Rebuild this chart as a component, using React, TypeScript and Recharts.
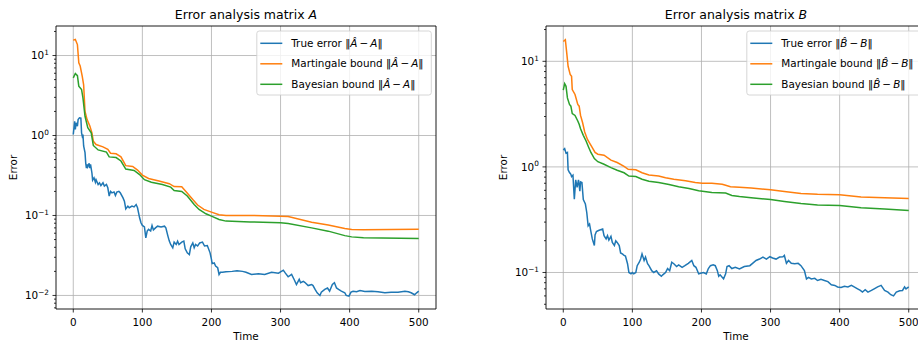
import React from "react";
import {
  CartesianGrid,
  Label,
  Line,
  LineChart,
  ReferenceArea,
  XAxis,
  YAxis,
} from "recharts";

type Pt = [number, number]; // [time, error]

const timeTicks = [0, 100, 200, 300, 400, 500];
const timeDomain: [number, number] = [-25, 525];

// matrix A
const trueErrA: Pt[] = [
  [0, 1.03], [2, 1.5], [3, 1.19], [4, 1.44], [6, 1.31], [7, 1.58], [9, 1.66], [11, 1.65],
  [12, 1.08], [13, 0.98], [14, 1.03], [15, 0.74], [17, 0.61], [18, 0.455], [19, 0.39],
  [20, 0.435], [21, 0.405], [23, 0.45], [24, 0.39], [25, 0.435], [27, 0.34], [28, 0.277],
  [30, 0.296], [32, 0.26], [33, 0.28], [36, 0.244], [38, 0.256], [40, 0.237], [43, 0.256],
  [45, 0.233], [48, 0.244], [50, 0.222], [52, 0.175], [54, 0.2], [56, 0.192], [59, 0.197],
  [61, 0.178], [63, 0.196], [66, 0.2], [68, 0.192], [72, 0.166], [74, 0.151], [76, 0.121],
  [79, 0.131], [81, 0.125], [85, 0.131], [88, 0.128], [91, 0.137], [93, 0.125], [96, 0.0935],
  [98, 0.081], [100, 0.075], [103, 0.072], [105, 0.0526], [107, 0.064], [109, 0.067],
  [112, 0.064], [114, 0.075], [116, 0.066], [119, 0.07], [122, 0.0735], [127, 0.072],
  [132, 0.0735], [134, 0.07], [137, 0.0552], [139, 0.0478], [141, 0.0434], [144, 0.0394],
  [146, 0.0464], [149, 0.0434], [151, 0.0478], [153, 0.0434], [157, 0.0464], [160, 0.0478],
  [162, 0.0383], [165, 0.0341], [168, 0.0325], [170, 0.0406], [173, 0.0454], [175, 0.0394],
  [177, 0.0434], [180, 0.0415], [183, 0.0454], [187, 0.0464], [190, 0.0415], [194, 0.042],
  [198, 0.0341], [200, 0.0282], [201, 0.025], [204, 0.0255], [206, 0.0233], [209, 0.0222],
  [211, 0.0183], [213, 0.0195], [216, 0.0195], [221, 0.0198], [230, 0.02], [237, 0.0204],
  [245, 0.02], [250, 0.0195], [258, 0.0183], [268, 0.0187], [277, 0.0183], [287, 0.0195],
  [297, 0.019], [304, 0.0207], [307, 0.019], [311, 0.0171], [316, 0.0183], [320, 0.0156],
  [323, 0.0137], [327, 0.0159], [329, 0.0144], [333, 0.015], [335, 0.0146], [340, 0.0133],
  [345, 0.0137], [347, 0.0133], [350, 0.0119], [353, 0.0108], [357, 0.01], [359, 0.011],
  [364, 0.0119], [368, 0.0124], [371, 0.0113], [375, 0.0137], [378, 0.0144], [381, 0.0124],
  [384, 0.0119], [388, 0.0113], [393, 0.0108], [395, 0.01], [399, 0.0098], [402, 0.011],
  [405, 0.0113], [410, 0.0111], [415, 0.0115], [422, 0.0112], [432, 0.0113], [441, 0.0111],
  [451, 0.0108], [460, 0.011], [470, 0.011], [480, 0.0113], [485, 0.0111], [489, 0.0108],
  [494, 0.0102], [497, 0.0108], [500, 0.0113],
];

const martA: Pt[] = [
  [0, 15.5], [3, 15.9], [6, 13.7], [8, 8.1], [10, 7.4], [13, 5.5], [15, 4.3], [17, 2.0],
  [20, 1.58], [24, 1.31], [27, 1.08], [29, 0.85], [33, 0.77], [43, 0.72], [50, 0.67],
  [54, 0.6], [62, 0.59], [69, 0.54], [76, 0.42], [86, 0.41], [93, 0.37], [100, 0.32],
  [109, 0.29], [124, 0.27], [139, 0.25], [146, 0.23], [157, 0.228], [163, 0.2], [173, 0.158],
  [180, 0.135], [189, 0.119], [200, 0.11], [211, 0.102], [221, 0.1], [255, 0.1], [300, 0.098],
  [311, 0.097], [345, 0.0825], [369, 0.076], [393, 0.0688], [403, 0.067], [420, 0.0665],
  [500, 0.0675],
];

const bayesA: Pt[] = [
  [0, 5.25], [3, 5.96], [6, 5.6], [8, 4.14], [12, 3.76], [14, 2.95], [17, 1.74], [21, 1.25],
  [26, 1.08], [29, 0.75], [36, 0.66], [48, 0.62], [52, 0.54], [62, 0.53], [69, 0.48],
  [76, 0.38], [88, 0.365], [96, 0.325], [103, 0.28], [113, 0.26], [129, 0.244], [141, 0.226],
  [146, 0.205], [157, 0.2], [165, 0.175], [175, 0.137], [182, 0.119], [192, 0.105],
  [200, 0.098], [211, 0.089], [221, 0.085], [256, 0.083], [300, 0.081], [311, 0.0795],
  [345, 0.07], [369, 0.0637], [393, 0.056], [403, 0.054], [420, 0.0525], [500, 0.0516],
];

// matrix B
const trueErrB: Pt[] = [
  [0, 1.45], [2, 1.49], [4, 1.35], [6, 1.37], [7, 0.94], [9, 0.885], [11, 0.85], [12, 0.81],
  [14, 0.835], [16, 0.495], [18, 0.754], [20, 0.64], [22, 0.754], [24, 0.59], [25, 0.72],
  [27, 0.71], [29, 0.49], [32, 0.445], [34, 0.37], [36, 0.277], [38, 0.288], [40, 0.244],
  [42, 0.208], [45, 0.18], [46, 0.227], [48, 0.244], [51, 0.25], [54, 0.254], [57, 0.258],
  [59, 0.223], [62, 0.208], [64, 0.223], [66, 0.203], [69, 0.22], [71, 0.193], [74, 0.18],
  [76, 0.2], [78, 0.193], [81, 0.18], [83, 0.153], [86, 0.149], [88, 0.145], [90, 0.143],
  [93, 0.121], [95, 0.1], [98, 0.097], [100, 0.1], [102, 0.097], [105, 0.1], [107, 0.116],
  [110, 0.125], [112, 0.134], [114, 0.15], [117, 0.13], [119, 0.14], [122, 0.121],
  [124, 0.116], [128, 0.104], [131, 0.1], [135, 0.104], [138, 0.097], [142, 0.092],
  [144, 0.095], [148, 0.1], [151, 0.109], [154, 0.104], [157, 0.125], [160, 0.121],
  [164, 0.114], [167, 0.118], [172, 0.112], [176, 0.116], [181, 0.122], [186, 0.13],
  [189, 0.116], [192, 0.112], [196, 0.097], [200, 0.099], [203, 0.1], [207, 0.097],
  [210, 0.109], [213, 0.116], [217, 0.118], [220, 0.116], [223, 0.104], [225, 0.092],
  [227, 0.095], [230, 0.09], [232, 0.087], [235, 0.097], [237, 0.114], [240, 0.116],
  [244, 0.109], [249, 0.112], [255, 0.108], [262, 0.114], [270, 0.116], [274, 0.122],
  [279, 0.13], [284, 0.134], [289, 0.14], [294, 0.134], [299, 0.141], [303, 0.137],
  [308, 0.134], [313, 0.14], [318, 0.141], [320, 0.145], [323, 0.122], [326, 0.13],
  [330, 0.122], [335, 0.121], [340, 0.122], [344, 0.116], [349, 0.104], [352, 0.087],
  [355, 0.09], [359, 0.087], [364, 0.088], [368, 0.084], [373, 0.086], [378, 0.084],
  [383, 0.082], [388, 0.0766], [393, 0.0754], [397, 0.073], [402, 0.072], [407, 0.074],
  [412, 0.073], [417, 0.0754], [421, 0.073], [426, 0.07], [430, 0.0676], [433, 0.0652],
  [437, 0.0686], [441, 0.0652], [446, 0.0676], [450, 0.07], [455, 0.073], [460, 0.0754],
  [465, 0.0676], [470, 0.0652], [474, 0.0616], [478, 0.06], [482, 0.0652], [487, 0.067],
  [491, 0.0676], [494, 0.073], [496, 0.07], [500, 0.073],
];

const martB: Pt[] = [
  [0, 15.4], [3, 16], [5, 12], [7, 8.97], [10, 7.5], [12, 7.2], [13, 5.4], [17, 4.85],
  [21, 3.9], [23, 3.76], [25, 3.07], [28, 2.62], [31, 2.14], [35, 1.82], [39, 1.64],
  [42, 1.52], [46, 1.37], [50, 1.32], [59, 1.29], [69, 1.16], [78, 1.1], [88, 1.01],
  [94, 0.95], [105, 0.94], [114, 0.88], [124, 0.84], [138, 0.82], [148, 0.79], [160, 0.765],
  [177, 0.74], [191, 0.71], [201, 0.7], [215, 0.7], [230, 0.686], [235, 0.67], [242, 0.648],
  [255, 0.64], [272, 0.63], [300, 0.607], [320, 0.585], [344, 0.56], [368, 0.55],
  [400, 0.545], [431, 0.52], [465, 0.51], [500, 0.503],
];

const bayesB: Pt[] = [
  [0, 5.33], [2, 6.15], [4, 5.8], [6, 4.5], [9, 3.9], [11, 3.76], [13, 3.2], [17, 3.07],
  [21, 2.72], [23, 2.53], [25, 2.3], [29, 1.99], [33, 1.76], [37, 1.52], [40, 1.37],
  [45, 1.2], [50, 1.12], [59, 1.06], [69, 0.985], [78, 0.93], [88, 0.88], [95, 0.82],
  [105, 0.81], [114, 0.765], [124, 0.73], [138, 0.71], [153, 0.68], [167, 0.65], [182, 0.625],
  [196, 0.594], [215, 0.573], [235, 0.565], [244, 0.537], [255, 0.525], [272, 0.51],
  [300, 0.49], [320, 0.47], [344, 0.45], [368, 0.435], [400, 0.43], [431, 0.41], [465, 0.4],
  [500, 0.387],
];

// log ticks (major + minor)
const yTicksA = [
  0.007, 0.008, 0.009, 0.01, 0.02, 0.03, 0.04, 0.05, 0.06, 0.07, 0.08, 0.09, 0.1, 0.2, 0.3,
  0.4, 0.5, 0.6, 0.7, 0.8, 0.9, 1, 2, 3, 4, 5, 6, 7, 8, 9, 10, 20,
];
const yTicksB = [
  0.05, 0.06, 0.07, 0.08, 0.09, 0.1, 0.2, 0.3, 0.4, 0.5, 0.6, 0.7, 0.8, 0.9, 1, 2, 3, 4, 5,
  6, 7, 8, 9, 10, 20,
];
const yDomainA: [number, number] = [0.00677, 23.4];
const yDomainB: [number, number] = [0.0451, 21.6];

const FONT = "DejaVu Sans";
const BLUE = "#1f77b4";
const ORANGE = "#ff7f0e";
const GREEN = "#2ca02c";

const toRows = (pts: Pt[]) => pts.map(([t, v]) => ({ t, v }));

const isMajor = (v: number) => {
  const l = Math.log10(v);
  return Math.abs(l - Math.round(l)) < 1e-6;
};

function LogTick(props: any) {
  const { x, y, payload } = props;
  const v = payload.value as number;
  const major = isMajor(v);
  const e = Math.round(Math.log10(v));
  return (
    <g>
      <line x1={x - (major ? 3.5 : 2)} x2={x} y1={y} y2={y} stroke="#000" strokeWidth={0.8} />
      {major && (
        <text x={x - 7.1} y={y + 3.8} textAnchor="end" fontSize={10.4} fontFamily={FONT} fill="#000">
          10
          <tspan dy={-4.3} fontSize={7.3}>
            {e < 0 ? `\u2212${-e}` : String(e)}
          </tspan>
        </text>
      )}
    </g>
  );
}

function TimeTick(props: any) {
  const { x, y, payload } = props;
  return (
    <g>
      <line x1={x} x2={x} y1={y} y2={y + 3.5} stroke="#000" strokeWidth={0.8} />
      <text x={x} y={y + 16.5} textAnchor="middle" fontSize={10.4} fontFamily={FONT} fill="#000">
        {payload.value}
      </text>
    </g>
  );
}

function Norm({ m }: { m: string }) {
  // ‖M̂ − M‖
  return (
    <>
      {"\u2016"}
      <tspan fontStyle="italic">{m === "A" ? "\u00c2" : "B\u0302"}</tspan>
      {"\u2009\u2212\u2009"}
      <tspan fontStyle="italic">{m}</tspan>
      {"\u2016"}
    </>
  );
}

const legendRows = [
  { label: "True error ", color: BLUE },
  { label: "Martingale bound ", color: ORANGE },
  { label: "Bayesian bound ", color: GREEN },
];

function Panel({
  left,
  letter,
  trueErr,
  mart,
  bayes,
  yTicks,
  yDomain,
  yAxisWidth,
  width,
}: {
  left: number;
  letter: string;
  trueErr: Pt[];
  mart: Pt[];
  bayes: Pt[];
  yTicks: number[];
  yDomain: [number, number];
  yAxisWidth: number;
  width: number;
}) {
  const plotW = 380;
  const majors = yTicks.filter(isMajor);
  const legX = yAxisWidth + 200.8;
  const rowsY = [43.3, 63.8, 84.3];

  return (
    <div style={{ position: "absolute", left, top: 0, width, height: 345 }}>
      <LineChart
        width={width}
        height={345}
        margin={{ top: 26, right: width - yAxisWidth - plotW, bottom: 6, left: 0 }}
      >
        <CartesianGrid
          horizontalValues={majors}
          verticalValues={timeTicks}
          stroke="#b0b0b0"
          strokeWidth={0.8}
        />
        <XAxis
          dataKey="t"
          type="number"
          domain={timeDomain}
          ticks={timeTicks}
          allowDataOverflow
          interval={0}
          height={30}
          axisLine={false}
          tickLine={false}
          tickSize={0}
          tickMargin={0}
          tick={<TimeTick />}
        >
          <Label
            content={(p: any) => {
              const vb = p.viewBox;
              return (
                <text
                  x={vb.x + vb.width / 2}
                  y={vb.y + 31}
                  textAnchor="middle"
                  fontSize={10.4}
                  fontFamily={FONT}
                  fill="#000"
                >
                  Time
                </text>
              );
            }}
          />
        </XAxis>
        <YAxis
          type="number"
          scale="log"
          domain={yDomain}
          ticks={yTicks}
          allowDataOverflow
          interval={0}
          width={yAxisWidth}
          axisLine={false}
          tickLine={false}
          tickSize={0}
          tickMargin={0}
          tick={<LogTick />}
        >
          <Label
            content={(p: any) => {
              const vb = p.viewBox;
              const cx = vb.x + vb.width - 39;
              const cy = vb.y + vb.height / 2;
              return (
                <text
                  x={cx}
                  y={cy}
                  transform={`rotate(-90 ${cx} ${cy})`}
                  textAnchor="middle"
                  fontSize={10.4}
                  fontFamily={FONT}
                  fill="#000"
                >
                  Error
                </text>
              );
            }}
          />
        </YAxis>
        <Line data={toRows(trueErr)} dataKey="v" type="linear" stroke={BLUE} strokeWidth={1.5} dot={false} isAnimationActive={false} />
        <Line data={toRows(mart)} dataKey="v" type="linear" stroke={ORANGE} strokeWidth={1.5} dot={false} isAnimationActive={false} />
        <Line data={toRows(bayes)} dataKey="v" type="linear" stroke={GREEN} strokeWidth={1.5} dot={false} isAnimationActive={false} />
        <ReferenceArea
          x1={timeDomain[0]}
          x2={timeDomain[1]}
          y1={yDomain[0]}
          y2={yDomain[1]}
          fill="none"
          fillOpacity={0}
          stroke="#000"
          strokeWidth={0.9}
          ifOverflow="visible"
        />
      </LineChart>
      <svg
        width={width}
        height={345}
        style={{ position: "absolute", left: 0, top: 0, pointerEvents: "none", overflow: "visible" }}
      >
        <text
          x={yAxisWidth + plotW / 2}
          y={19}
          textAnchor="middle"
          fontSize={12.5}
          fontFamily={FONT}
          fill="#000"
        >
          Error analysis matrix <tspan fontStyle="italic">{letter}</tspan>
        </text>
        <rect
          x={legX}
          y={31}
          width={174.5}
          height={64}
          rx={2.5}
          fill="#fff"
          fillOpacity={0.8}
          stroke="#cccccc"
          strokeWidth={0.8}
        />
        {legendRows.map((r, i) => (
          <g key={r.label}>
            <line x1={legX + 3.5} x2={legX + 25.5} y1={rowsY[i]} y2={rowsY[i]} stroke={r.color} strokeWidth={1.5} />
            <text x={legX + 34.5} y={rowsY[i] + 3.6} fontSize={10.4} fontFamily={FONT} fill="#000">
              {r.label}
              <Norm m={letter} />
            </text>
          </g>
        ))}
      </svg>
    </div>
  );
}

export default function App() {
  return (
    <div
      style={{
        position: "fixed",
        left: 0,
        top: 0,
        width: 918,
        height: 345,
        overflow: "hidden",
        background: "#fff",
      }}
    >
      <Panel
        left={0}
        letter="A"
        trueErr={trueErrA}
        mart={martA}
        bayes={bayesA}
        yTicks={yTicksA}
        yDomain={yDomainA}
        yAxisWidth={56}
        width={460}
      />
      <Panel
        left={460}
        letter="B"
        trueErr={trueErrB}
        mart={martB}
        bayes={bayesB}
        yTicks={yTicksB}
        yDomain={yDomainB}
        yAxisWidth={86}
        width={476}
      />
    </div>
  );
}
